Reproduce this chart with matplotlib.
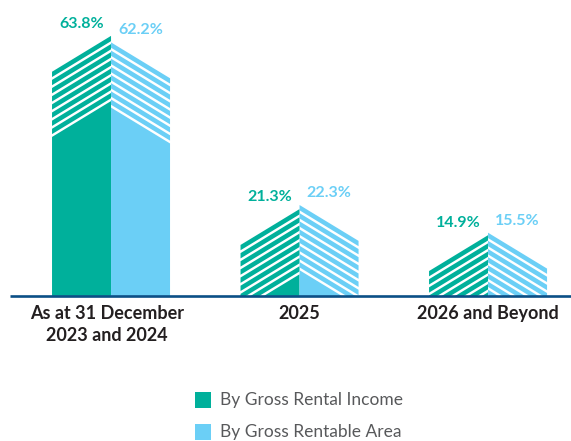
import matplotlib.pyplot as plt
from matplotlib.patches import Polygon, Rectangle

# chart data
categories = ['As at 31 December\n2023 and 2024', '2025', '2026 and Beyond']
rental_income = [63.8, 21.3, 14.9]
rentable_area = [62.2, 22.3, 15.5]
series_names = ['By Gross Rental Income', 'By Gross Rentable Area']

green = '#00B09B'
blue = '#6BCFF6'
navy = '#0B4F86'
dark = '#231F20'

W, H = 571, 441
fig = plt.figure(figsize=(W / 100, H / 100), dpi=100)
ax = fig.add_axes([0, 0, 1, 1])
ax.set_xlim(-0.589, 2.44)
ax.set_ylim(-35.6, 72.6)
ax.axis('off')

w = 0.313        # width of one half of a "building"
drop = 8.8       # roof slope height
period = 2.0     # stripe period
stripe = 1.3     # coloured part of each stripe
n_stripes = 8

clip = Rectangle((-1, 0), 5, 100, transform=ax.transData)


def building(xl, xr, top_l, top_r, color):
    # striped roof band
    for k in range(n_stripes):
        a = k * period
        b = a + stripe
        p = Polygon([(xl, top_l - a), (xr, top_r - a), (xr, top_r - b), (xl, top_l - b)],
                    closed=True, facecolor=color, edgecolor='none')
        ax.add_patch(p)
        p.set_clip_path(clip)
    # solid body below the band
    off = n_stripes * period
    p = Polygon([(xl, top_l - off), (xr, top_r - off), (xr, 0), (xl, 0)],
                closed=True, facecolor=color, edgecolor='none')
    ax.add_patch(p)
    p.set_clip_path(clip)


for i, (g, b) in enumerate(zip(rental_income, rentable_area)):
    building(i - w, i, g - drop, g, green)
    building(i, i + w, b, b - drop, blue)
    ax.text(i - w / 2, g + 1.2, f'{g}%', ha='center', va='bottom', color=green,
            fontsize=11.5, fontweight='bold', family='Lato')
    ax.text(i + w / 2, b + 1.2, f'{b}%', ha='center', va='bottom', color=blue,
            fontsize=11.5, fontweight='bold', family='Lato')
    ax.text(i - (0.02 if i == 0 else 0), -2.2, categories[i], ha='center', va='top', color=dark,
            fontsize=13, fontweight='bold', family='Lato', linespacing=1.38)

# baseline
ax.plot([-0.536, 2.44], [0, 0], color=navy, lw=1.9, solid_capstyle='butt')

# legend drawn by hand
for j, (name, col) in enumerate(zip(series_names, [green, blue])):
    y = 1 - (400 + 32 * j) / H
    fig.patches.append(Rectangle((195 / W, y - 8 / H), 16 / W, 16 / H,
                                 transform=fig.transFigure, facecolor=col, edgecolor='none'))
    fig.text(220 / W, y, name, ha='left', va='center', color='#58595B',
             fontsize=12.5, family='Lato')

plt.savefig('out.png', dpi=100)
